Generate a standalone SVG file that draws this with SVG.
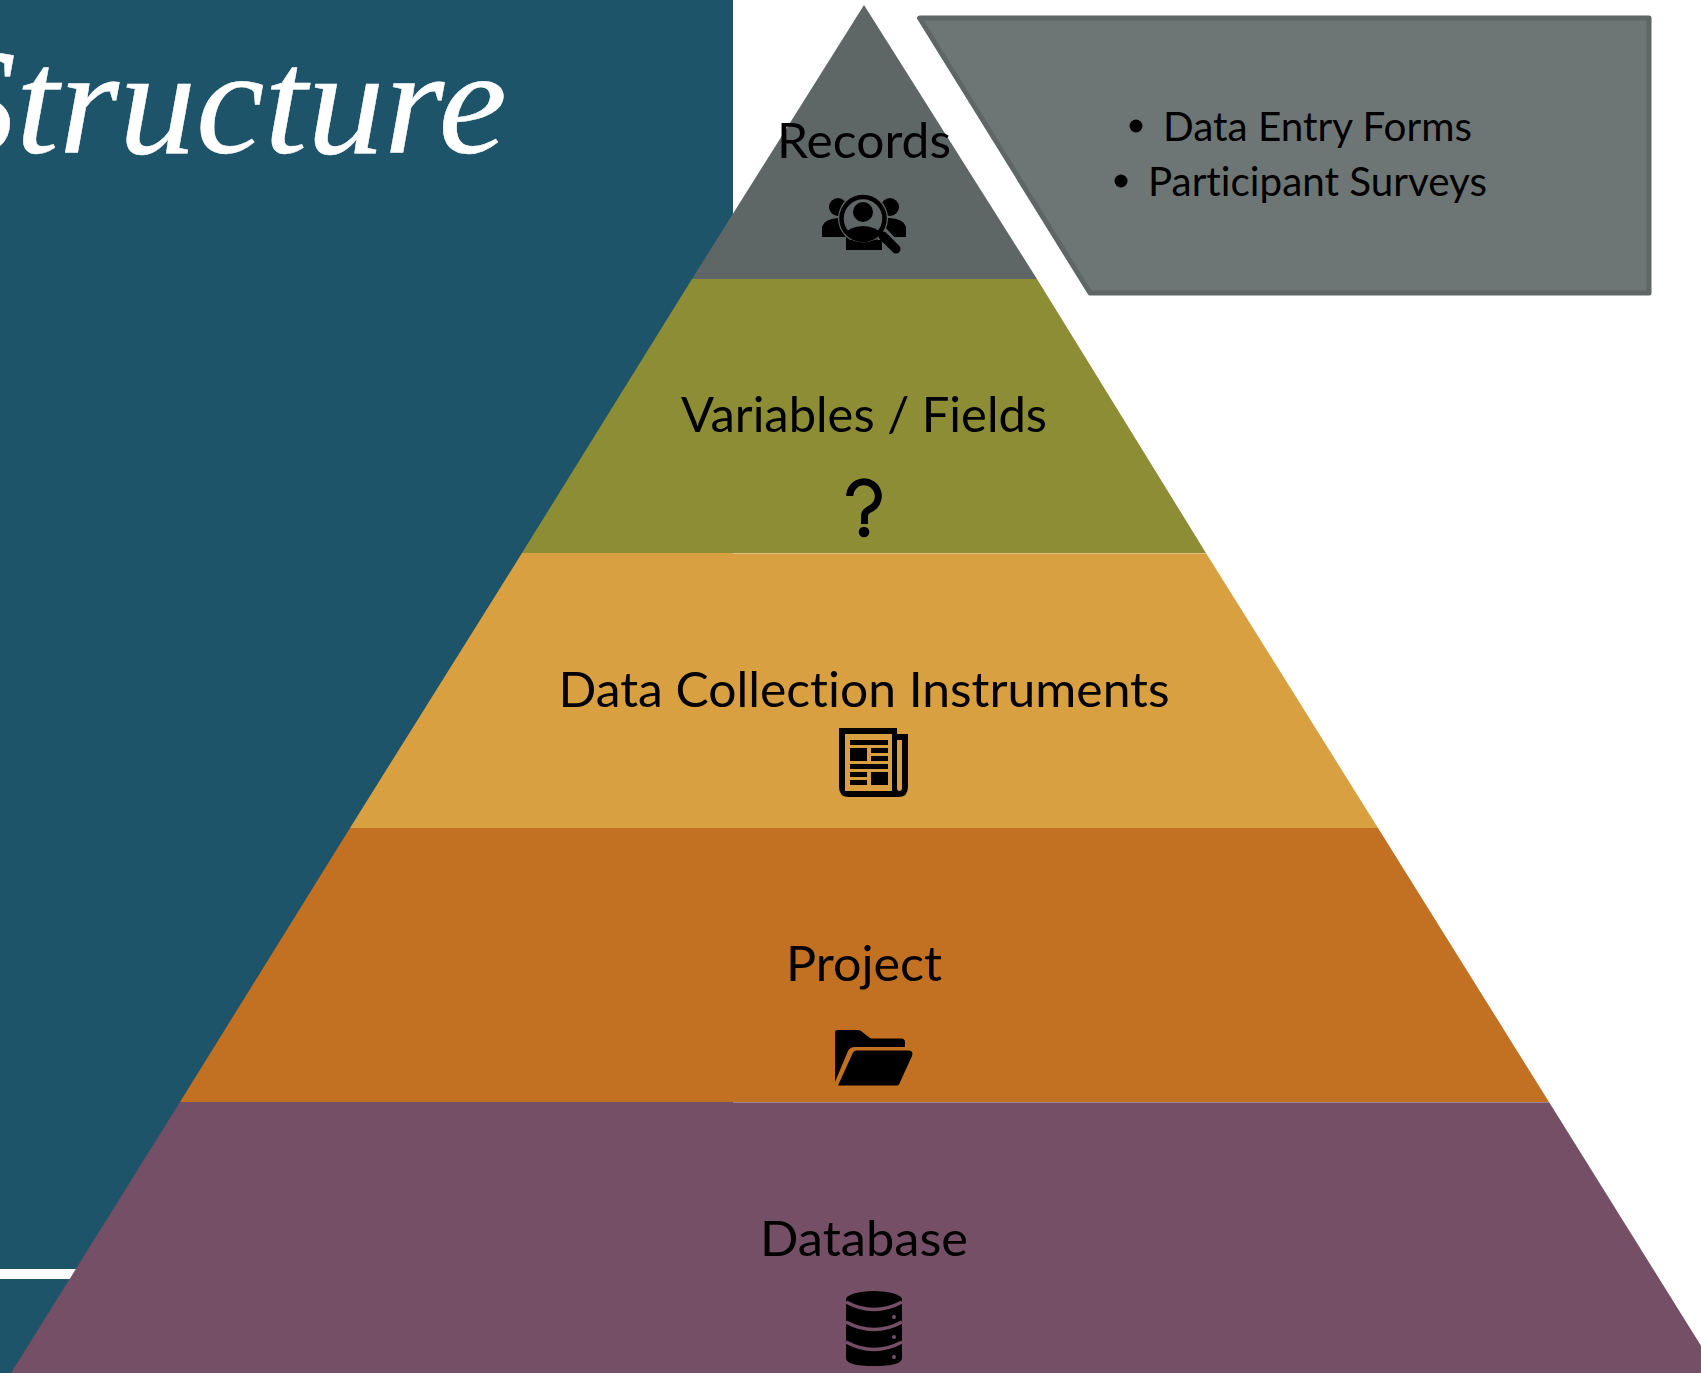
<svg xmlns="http://www.w3.org/2000/svg" width="1701" height="1373" viewBox="0 0 1701 1373">
<style>
.l{font-family:"Lato","Open Sans","Liberation Sans",sans-serif;font-size:49px;fill:#000;text-anchor:middle;font-variant-ligatures:none}
.b{font-family:"Lato","Open Sans","Liberation Sans",sans-serif;font-size:40px;fill:#000;font-variant-ligatures:none}
.t{font-family:"Liberation Serif",serif;font-style:italic;font-size:150px;fill:#fff;stroke:#fff;stroke-width:.5}
.k{fill:#000}
.s{fill:#fff;opacity:.3}
</style>
<defs><clipPath id="ringclip"><circle cx="863" cy="218.5" r="21"/></clipPath></defs>
<rect width="1701" height="1373" fill="#fff"/>
<g id="title-panel">
<rect x="0" y="0" width="733" height="1373" fill="#1d5469"/>
<rect x="0" y="1269" width="100" height="10" fill="#fff"/>
<text class="t" x="-61" y="153" textLength="568" lengthAdjust="spacingAndGlyphs">Structure</text>
</g>
<g id="layer-records">
<polygon points="864,5 1037,279 692,279" fill="#5f6766"/>
<text class="l" x="864" y="158" textLength="174" lengthAdjust="spacingAndGlyphs">Records</text>
<g class="k">
<circle cx="838" cy="207" r="9"/><circle cx="890" cy="207" r="9"/>
<path d="M822,237V227Q824,219 838,218H890Q904,219 906,227V237Z"/>
<rect x="846" y="236" width="36" height="14"/>
<circle cx="863" cy="218.5" r="25" fill="#5f6766"/>
<path d="M880,232L897,250" stroke="#5f6766" stroke-width="14" fill="none"/>
<path d="M846,240H882V250H846Z"/>
<circle cx="863" cy="218.5" r="21" fill="none" stroke="#5f6766" stroke-width="6"/>
<circle cx="863" cy="218.5" r="21.5" fill="none" stroke="#000" stroke-width="4.5"/>
<circle cx="863" cy="212" r="10"/>
<path clip-path="url(#ringclip)" d="M842,245V236Q850,226 863,226Q876,226 884,236V245Z"/>
<path d="M883,236L896,249" stroke="#000" stroke-width="9" stroke-linecap="round" fill="none"/>
</g>
</g>
<g id="layer-variables">
<polygon points="692,279 1037,279 1206,553 522,553" fill="#8d8d36"/>
<text class="l" x="864" y="432" textLength="366" lengthAdjust="spacingAndGlyphs">Variables / Fields</text>
<path d="M849.7,496A14.3,14.3 0 1 1 869,509.5Q864.5,512 864.5,516V524" fill="none" stroke="#000" stroke-width="7"/>
<circle class="k" cx="864" cy="532" r="5.3"/>
</g>
<g id="layer-instruments">
<polygon points="522,553 1206,553 1378,828 350,828" fill="#d9a042"/>
<text class="l" x="864" y="707" textLength="611" lengthAdjust="spacingAndGlyphs">Data Collection Instruments</text>
<path class="k" fill-rule="evenodd" d="M839,728H897V734H908V787Q908,797 898,797H849Q839,797 839,787ZM845,734V791H892V734ZM897,740V788Q897,791 899.5,791Q902,791 902,788V740Z"/>
<path class="k" d="M850,740h38v5h-38ZM850,748h17v13h-17ZM871,748h17v5h-17ZM871,756h17v5h-17ZM850,764h38v5h-38ZM850,772h17v5h-17ZM850,780h17v5h-17ZM871,772h17v13h-17Z"/>
</g>
<g id="layer-project">
<polygon points="350,828 1378,828 1549,1102 180,1102" fill="#c27022"/>
<text class="l" x="864" y="981" textLength="156" lengthAdjust="spacingAndGlyphs">Project</text>
<path class="k" d="M835,1082V1032Q835,1030 838,1030H857Q859,1030 861,1031L870,1038Q871,1038.500 873,1038.500H901Q905,1038.500 905,1042V1047H855Q850,1047 848,1051Z"/>
<path class="k" d="M838,1085.500L853,1052.500Q854,1050.500 857,1050.500H908Q914,1050.500 912,1056L899,1084.500Q898,1085.500 897,1085.500Z"/>
</g>
<g id="layer-database">
<polygon points="180,1102 1549,1102 1718,1373 11,1373" fill="#754f66"/>
<text class="l" x="864" y="1256" textLength="208" lengthAdjust="spacingAndGlyphs">Database</text>
<ellipse class="k" cx="874" cy="1299.500" rx="28" ry="8.500"/>
<path class="k" d="M846,1299.500H902V1358Q902,1366 874,1366Q846,1366 846,1358Z"/>
<g fill="none" stroke="#754f66" stroke-width="3.500">
<path d="M846,1302Q874,1317 902,1302"/>
<path d="M846,1322Q874,1337 902,1322"/>
<path d="M846,1342Q874,1357 902,1342"/>
</g>
<g fill="#754f66"><circle cx="894" cy="1317" r="2"/><circle cx="894" cy="1337" r="2"/><circle cx="894" cy="1357" r="2"/></g>
</g>
<rect class="s" x="733" y="553" width="473" height="1"/>
<rect class="s" x="733" y="1102" width="816" height="1"/>
<g id="records-callout">
<polygon points="919.500,18 1649,18 1649,293 1090,293" fill="#6d7675" stroke="#5f6766" stroke-width="5" stroke-linejoin="round"/>
<circle class="k" cx="1136" cy="126" r="6.500"/>
<text class="b" x="1163" y="141" textLength="309" lengthAdjust="spacingAndGlyphs">Data Entry Forms</text>
<circle class="k" cx="1121" cy="181" r="6.500"/>
<text class="b" x="1148" y="196" textLength="339" lengthAdjust="spacingAndGlyphs">Participant Surveys</text>
</g>
<g id="connectors"/>
</svg>
